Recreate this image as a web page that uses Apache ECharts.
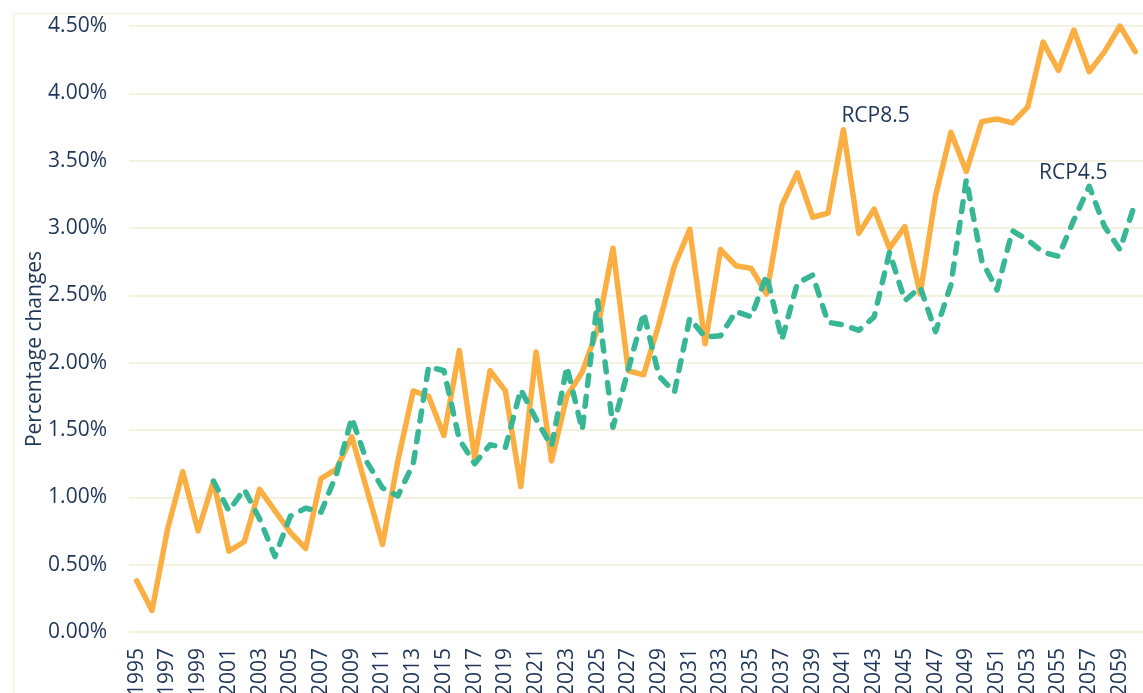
<!DOCTYPE html>
<html>
<head>
<meta charset="utf-8">
<script src="https://cdn.jsdelivr.net/npm/echarts@6/dist/echarts.min.js"></script>
<style>
html,body{margin:0;padding:0;background:#fff;}
#chart{width:1143px;height:693px;}
</style>
</head>
<body>
<div id="chart"></div>
<script>
const years = ['1995','1996','1997','1998','1999','2000','2001','2002','2003','2004','2005','2006','2007','2008','2009','2010','2011','2012','2013','2014','2015','2016','2017','2018','2019','2020','2021','2022','2023','2024','2025','2026','2027','2028','2029','2030','2031','2032','2033','2034','2035','2036','2037','2038','2039','2040','2041','2042','2043','2044','2045','2046','2047','2048','2049','2050','2051','2052','2053','2054','2055','2056','2057','2058','2059','2060'];

const rcp85 = [0.38,0.16,0.76,1.19,0.75,1.12,0.60,0.67,1.06,0.90,0.74,0.62,1.14,1.21,1.45,1.05,0.65,1.27,1.79,1.75,1.46,2.09,1.29,1.94,1.79,1.08,2.08,1.27,1.75,1.93,2.25,2.85,1.94,1.91,2.29,2.72,2.99,2.14,2.84,2.72,2.70,2.51,3.17,3.41,3.08,3.11,3.73,2.96,3.14,2.85,3.01,2.51,3.24,3.71,3.42,3.79,3.81,3.78,3.90,4.38,4.17,4.47,4.16,4.31,4.50,4.31];

const rcp45 = [null,null,null,null,null,1.12,0.90,1.06,0.84,0.56,0.86,0.92,0.89,1.17,1.59,1.26,1.07,1.01,1.25,1.97,1.94,1.43,1.25,1.39,1.37,1.80,1.58,1.38,1.97,1.50,2.46,1.52,1.95,2.37,1.90,1.78,2.33,2.19,2.20,2.38,2.34,2.65,2.17,2.59,2.65,2.30,2.28,2.24,2.34,2.82,2.46,2.56,2.23,2.58,3.36,2.76,2.54,2.98,2.91,2.82,2.79,3.06,3.31,3.01,2.84,3.19];

const seriesNames = ['RCP8.5', 'RCP4.5'];
const labelYears = ['2041', '2057'];

const FONT = '"Open Sans", "Noto Sans", sans-serif';
const TXT = '#1f3658';
const GRID = '#f2f2df';
const FS = 21;

function nameMark(values, year, name, labelPos) {
  const idx = years.indexOf(year);
  return {
    silent: true,
    symbol: 'circle',
    symbolSize: 0,
    data: [{
      coord: [year, values[idx]],
      label: Object.assign({
        show: true, formatter: name, color: TXT, fontFamily: FONT, fontSize: FS
      }, labelPos)
    }]
  };
}

const chart = echarts.init(document.getElementById('chart'), null, {renderer: 'canvas'});
chart.setOption({
  backgroundColor: '#ffffff',
  animation: false,
  graphic: [{
    type: 'rect', left: 11, top: 11,
    shape: {width: 1200, height: 800},
    style: {fill: 'none', stroke: GRID, lineWidth: 1.5},
    silent: true, z: -1
  }],
  grid: {left: 129, right: 0, top: 26, bottom: 61, containLabel: false, outerBoundsMode: 'none'},
  xAxis: {
    type: 'category',
    data: years,
    boundaryGap: true,
    axisLine: {show: true, lineStyle: {color: GRID, width: 2}},
    axisTick: {show: false},
    axisLabel: {
      interval: 1, rotate: 90, margin: 16,
      color: TXT, fontFamily: FONT, fontSize: FS
    }
  },
  yAxis: {
    type: 'value',
    min: 0, max: 4.5, interval: 0.5,
    name: 'Percentage changes',
    nameLocation: 'middle',
    nameGap: 83,
    nameMoveOverlap: false,
    nameTextStyle: {color: TXT, fontFamily: FONT, fontSize: FS, padding: [0, 40, 0, 0]},
    axisLine: {show: false},
    axisTick: {show: false},
    axisLabel: {
      margin: 22, color: TXT, fontFamily: FONT, fontSize: FS,
      formatter: v => v.toFixed(2) + '%'
    },
    splitLine: {lineStyle: {color: GRID, width: 2}}
  },
  series: [{
    name: seriesNames[0],
    type: 'line',
    data: rcp85,
    symbol: 'none',
    lineStyle: {color: '#fbae42', width: 5.5, cap: 'round', join: 'round'},
    itemStyle: {color: '#fbae42'},
    markPoint: nameMark(rcp85, labelYears[0], seriesNames[0], {position: 'top', align: 'left', offset: [-2, 2]}),
    z: 2
  }, {
    name: seriesNames[1],
    type: 'line',
    data: rcp45,
    symbol: 'none',
    connectNulls: false,
    lineStyle: {color: '#37b795', width: 5.5, type: [10, 11], cap: 'round', join: 'round'},
    itemStyle: {color: '#37b795'},
    markPoint: nameMark(rcp45, labelYears[1], seriesNames[1], {position: 'top', align: 'center', offset: [-16, 2]}),
    z: 3
  }]
});
</script>
</body>
</html>
